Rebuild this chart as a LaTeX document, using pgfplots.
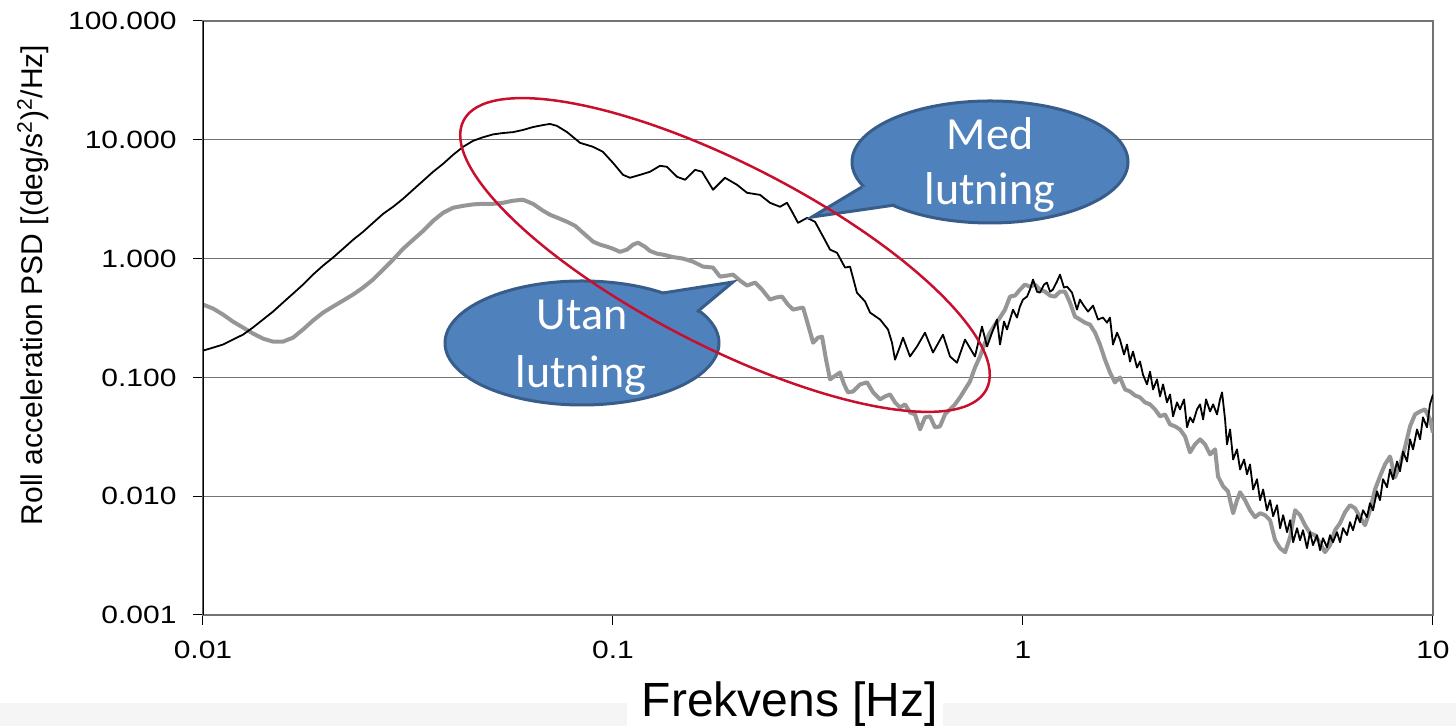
\documentclass[border=0pt]{standalone}
\usepackage{pgfplots}
\pgfplotsset{compat=1.18}
\usepackage{fontspec}
\setmainfont{Liberation Sans}
\newfontfamily\calibri{Carlito}
\definecolor{bubblefill}{HTML}{4F81BD}
\definecolor{bubbleedge}{HTML}{385D8A}
\definecolor{ellred}{HTML}{C8102E}
\definecolor{curvegray}{RGB}{150,150,150}
\begin{document}
\begin{tikzpicture}
\begin{scope}[x=0.5pt,y=-0.5pt,shift={(-101.5pt,307.5pt)}]
  \fill[black!4] (0,703) rectangle (627,726);
  \fill[black!4] (943,703) rectangle (1456,726);
\end{scope}
\begin{axis}[
  scale only axis, width=615pt, height=297pt,
  xmode=log, ymode=log,
  xmin=0.01, xmax=10, ymin=0.001, ymax=100,
  xtick={0.01,0.1,1,10}, xticklabels={0.01,0.1,1,10},
  ytick={0.001,0.01,0.1,1,10,100},
  yticklabels={0.001,0.010,0.100,1.000,10.000,100.000},
  xminorticks=false, yminorticks=false,
  xtick pos=left, ytick pos=left,
  tick align=outside,
  major tick length=5pt,
  tick style={black, line width=0.5pt},
  ymajorgrids,
  major grid style={black!55, line width=0.6pt},
  axis line style={black!55, line width=0.6pt},
  ticklabel style={font=\fontsize{12.5}{15}\selectfont, xscale=1.2},
  yticklabel shift=4pt,
  xticklabel shift=4.5pt,
  xlabel={Frekvens [Hz]},
  ylabel={Roll acceleration PSD [(deg/s\textsuperscript{2})\textsuperscript{2}/Hz]},
  every axis x label/.style={at={(axis description cs:0.4772,-0.1717)}, anchor=base, font=\fontsize{24}{28}\selectfont},
  every axis y label/.style={at={(axis description cs:-0.1382,0.5556)}, anchor=center, rotate=90, font=\fontsize{15}{18}\selectfont},
]
% Utan lutning (grey)
\addplot[curvegray, line width=2pt, line join=round] coordinates {
(0.0100,0.410) (0.01058,0.380) (0.01119,0.338) (0.01183,0.295) (0.01252,0.263)
(0.01324,0.234) (0.01401,0.212) (0.01482,0.200) (0.01567,0.200) (0.01658,0.216)
(0.01754,0.253) (0.01855,0.301) (0.01963,0.351) (0.02076,0.395) (0.02196,0.443)
(0.02323,0.498) (0.02457,0.570) (0.02599,0.666) (0.02750,0.808) (0.02909,0.981)
(0.03077,1.21) (0.03255,1.44) (0.03443,1.71) (0.03642,2.08) (0.03853,2.43)
(0.04075,2.68) (0.04311,2.78) (0.04560,2.86) (0.04819,2.89) (0.05097,2.89)
(0.05391,2.95) (0.05703,3.07) (0.06033,3.13) (0.06381,2.89) (0.06750,2.53)
(0.0702,2.34) (0.0743,2.16) (0.0773,2.04) (0.0808,1.89) (0.0845,1.65)
(0.0894,1.39) (0.0930,1.31) (0.0967,1.26) (0.100,1.21) (0.1040,1.14)
(0.1082,1.19) (0.1119,1.31) (0.1151,1.36) (0.1196,1.26) (0.1231,1.16)
(0.1281,1.10) (0.1324,1.08) (0.1401,1.03) (0.1482,1.00) (0.1567,0.943)
(0.1658,0.856) (0.1754,0.840) (0.1824,0.705) (0.1897,0.719) (0.1963,0.733)
(0.2041,0.653) (0.2123,0.593) (0.2221,0.628) (0.2310,0.548) (0.2415,0.452)
(0.2498,0.470) (0.2584,0.479) (0.2672,0.410) (0.2750,0.372) (0.2827,0.380)
(0.2909,0.387) (0.2990,0.278) (0.3077,0.196) (0.3162,0.216) (0.3236,0.220)
(0.3309,0.141) (0.3384,0.0962) (0.3480,0.103) (0.3579,0.110) (0.3662,0.0873)
(0.3743,0.0748) (0.3853,0.0762) (0.4005,0.0873) (0.4166,0.0908) (0.4311,0.0748)
(0.4482,0.0653) (0.4611,0.0692) (0.4739,0.0719) (0.4874,0.0616) (0.5012,0.0559)
(0.5156,0.0593) (0.5302,0.0507) (0.5452,0.0488) (0.5610,0.0365) (0.5768,0.0461)
(0.5933,0.0470) (0.6102,0.0380) (0.6275,0.0387) (0.6454,0.0488) (0.6638,0.0538)
(0.6827,0.0593) (0.7021,0.0679) (0.7222,0.0792) (0.7427,0.0925) (0.7638,0.121)
(0.7857,0.150) (0.8080,0.196) (0.8310,0.238) (0.8547,0.278) (0.8790,0.319)
(0.9040,0.372) (0.9297,0.479) (0.9561,0.488) (0.9832,0.548) (1.011,0.604)
(1.040,0.581) (1.070,0.604) (1.100,0.548) (1.132,0.527) (1.164,0.488)
(1.196,0.479) (1.231,0.527) (1.266,0.527) (1.302,0.426) (1.339,0.325)
(1.377,0.307) (1.416,0.289) (1.457,0.278) (1.499,0.238) (1.541,0.189)
(1.585,0.141) (1.630,0.110) (1.676,0.0908) (1.724,0.100) (1.774,0.0792)
(1.824,0.0762) (1.876,0.0705) (1.930,0.0679) (1.985,0.0616) (2.041,0.0593)
(2.099,0.0538) (2.159,0.0470) (2.221,0.0488) (2.284,0.0402) (2.349,0.0387)
(2.415,0.0365) (2.484,0.0319) (2.555,0.0234) (2.628,0.0273) (2.703,0.0301)
(2.780,0.0273) (2.860,0.0225) (2.941,0.0248) (2.990,0.0147) (3.077,0.0121)
(3.162,0.0110) (3.255,0.00719) (3.327,0.00925) (3.384,0.0108) (3.481,0.00925)
(3.579,0.00762) (3.682,0.00666) (3.787,0.00719) (3.895,0.00692) (4.005,0.00628)
(4.12,0.00426) (4.237,0.00365) (4.358,0.00338) (4.482,0.00452) (4.611,0.00762)
(4.739,0.00692) (4.874,0.00570) (5.012,0.00488) (5.156,0.00470) (5.302,0.00402)
(5.452,0.00338) (5.610,0.00387) (5.768,0.00517) (5.933,0.00593) (6.102,0.00733)
(6.275,0.00840) (6.454,0.00792) (6.638,0.00666) (6.827,0.00570) (7.02,0.00762)
(7.222,0.0114) (7.427,0.0147) (7.638,0.0185) (7.857,0.0216) (8.08,0.0144)
(8.31,0.0185) (8.547,0.0258) (8.79,0.0387) (9.04,0.0488) (9.30,0.0517)
(9.561,0.0538) (9.832,0.0443) (10,0.0344)
};
% Med lutning (black)
\addplot[black, line width=0.9pt, line join=round] coordinates {
(0.0100,0.168) (0.01058,0.178) (0.01119,0.189) (0.01183,0.208) (0.01252,0.229)
(0.01324,0.263) (0.01401,0.307) (0.01482,0.358) (0.01567,0.426) (0.01658,0.507)
(0.01754,0.604) (0.01855,0.733) (0.01963,0.873) (0.02076,1.02) (0.02196,1.21)
(0.02323,1.44) (0.02457,1.68) (0.02599,2.00) (0.02750,2.38) (0.02909,2.73)
(0.03077,3.19) (0.03255,3.80) (0.03443,4.52) (0.03642,5.38) (0.03853,6.28)
(0.04075,7.48) (0.04311,8.73) (0.04560,9.81) (0.04819,10.5) (0.05097,11.1)
(0.05391,11.4) (0.05703,11.6) (0.06033,12.1) (0.06381,12.8) (0.06750,13.3)
(0.0702,13.6) (0.0730,13.1) (0.0773,11.6) (0.0831,9.43) (0.0894,8.73)
(0.0945,7.92) (0.100,6.40) (0.1058,5.07) (0.110,4.79) (0.1164,5.07)
(0.1231,5.38) (0.1302,6.04) (0.1354,5.93) (0.1433,4.88) (0.1499,4.61)
(0.1585,5.59) (0.1649,5.38) (0.1754,3.80) (0.1876,4.79) (0.2007,4.18)
(0.2123,3.58) (0.2284,3.44) (0.2415,2.95) (0.2555,2.73) (0.2657,2.95)
(0.2734,2.48) (0.2827,2.00) (0.2974,2.20) (0.311,2.04) (0.3255,1.53)
(0.3384,1.19) (0.3519,1.12) (0.3682,0.840) (0.3787,0.856) (0.3936,0.517)
(0.412,0.435) (0.4237,0.351) (0.4482,0.307) (0.4686,0.253) (0.4792,0.196)
(0.4874,0.141) (0.5012,0.182) (0.5097,0.216) (0.5302,0.150) (0.5514,0.182)
(0.5768,0.238) (0.6033,0.162) (0.6381,0.229) (0.6638,0.150) (0.6903,0.133)
(0.7222,0.208) (0.7638,0.150) (0.7946,0.268) (0.8172,0.182) (0.8405,0.238)
(0.8643,0.307) (0.879,0.189) (0.899,0.295) (0.9142,0.253) (0.9454,0.372)
(0.9669,0.319) (0.983,0.395) (1.000,0.452) (1.023,0.479) (1.040,0.548)
(1.058,0.666) (1.082,0.527) (1.100,0.517) (1.125,0.604) (1.144,0.628)
(1.164,0.527) (1.183,0.548) (1.210,0.640) (1.231,0.733) (1.259,0.570)
(1.281,0.581) (1.317,0.517) (1.354,0.372) (1.377,0.452) (1.401,0.410)
(1.441,0.358) (1.482,0.402) (1.524,0.307) (1.567,0.319) (1.603,0.289)
(1.630,0.319) (1.658,0.189) (1.696,0.238) (1.724,0.208) (1.764,0.156)
(1.794,0.189) (1.824,0.136) (1.855,0.165) (1.897,0.121) (1.930,0.136)
(1.963,0.105) (2.007,0.0873) (2.041,0.112) (2.076,0.0792) (2.123,0.0962)
(2.159,0.0692) (2.196,0.0873) (2.245,0.0616) (2.284,0.0719) (2.323,0.0470)
(2.375,0.0616) (2.415,0.0538) (2.471,0.0653) (2.513,0.0380) (2.555,0.0461)
(2.599,0.0418) (2.657,0.0538) (2.703,0.0593) (2.750,0.0443) (2.796,0.0653)
(2.860,0.0517) (2.909,0.0593) (2.974,0.0488) (3.024,0.0653) (3.059,0.0748)
(3.111,0.0443) (3.145,0.0273) (3.200,0.0365) (3.255,0.0204) (3.327,0.0248)
(3.384,0.0168) (3.462,0.0204) (3.519,0.0153) (3.579,0.0185) (3.642,0.0114)
(3.723,0.0139) (3.787,0.00925) (3.853,0.0114) (3.936,0.00762) (4.005,0.00925)
(4.075,0.00679) (4.166,0.00840) (4.237,0.00538) (4.311,0.00692) (4.406,0.00498)
(4.482,0.00628) (4.560,0.00410) (4.661,0.00538) (4.739,0.00426) (4.819,0.00517)
(4.929,0.00365) (5.012,0.00498) (5.097,0.00387) (5.214,0.00470) (5.302,0.00351)
(5.391,0.00443) (5.514,0.00372) (5.610,0.00470) (5.703,0.00410) (5.833,0.00498)
(5.933,0.00410) (6.033,0.00538) (6.170,0.00470) (6.275,0.00604) (6.381,0.00517)
(6.526,0.00692) (6.638,0.00604) (6.750,0.00762) (6.903,0.00666) (7.02,0.00873)
(7.141,0.00762) (7.303,0.0110) (7.427,0.00925) (7.553,0.0139) (7.725,0.0119)
(7.857,0.0168) (7.990,0.0139) (8.172,0.0196) (8.31,0.0162) (8.452,0.0238)
(8.643,0.0196) (8.79,0.0301) (8.940,0.0248) (9.142,0.0365) (9.30,0.0301)
(9.454,0.0461) (9.669,0.0380) (9.83,0.0593) (10,0.0719)
};
\draw[black, line width=0.75pt] (rel axis cs:0,0) -- (rel axis cs:0,1);
\end{axis}
\begin{scope}[x=0.5pt,y=-0.5pt,shift={(-101.5pt,307.5pt)}]
  % Utan lutning bubble
  \filldraw[fill=bubblefill, draw=bubbleedge, line width=1.5pt] (582,343) ellipse [x radius=137, y radius=62];
  \fill[bubblefill] (663,293) -- (733,282) -- (697,312) -- (665,318) -- cycle;
  \draw[bubbleedge, line width=1.5pt, line join=miter] (663,293) -- (733,282) -- (697,312);
  \node[text=white, font=\calibri\fontsize{23}{28}\selectfont, anchor=base, inner sep=0pt] at (582,330) {Utan};
  \node[text=white, font=\calibri\fontsize{23}{28}\selectfont, anchor=base, inner sep=0pt] at (581,388) {lutning};
  % Med lutning bubble
  \filldraw[fill=bubblefill, draw=bubbleedge, line width=1.5pt] (990,162) ellipse [x radius=138, y radius=61];
  \fill[bubblefill] (862,187) -- (812,217) -- (895,205) -- (885,182) -- cycle;
  \draw[bubbleedge, line width=1.5pt, line join=miter] (862,187) -- (812,217) -- (895,205);
  \node[text=white, font=\calibri\fontsize{23}{28}\selectfont, anchor=base, inner sep=0pt] at (990,150) {Med};
  \node[text=white, font=\calibri\fontsize{23}{28}\selectfont, anchor=base, inner sep=0pt] at (990,205) {lutning};
  % red ellipse
  \begin{scope}[shift={(725,255)}, rotate=-27.2]
    \draw[ellred, line width=1.25pt] (0,0) ellipse [x radius=294, y radius=91];
  \end{scope}
\end{scope}
\pgfresetboundingbox
\path[use as bounding box] (-101.5pt,-55.5pt) rectangle (626.5pt,307.5pt);
\end{tikzpicture}
\end{document}
